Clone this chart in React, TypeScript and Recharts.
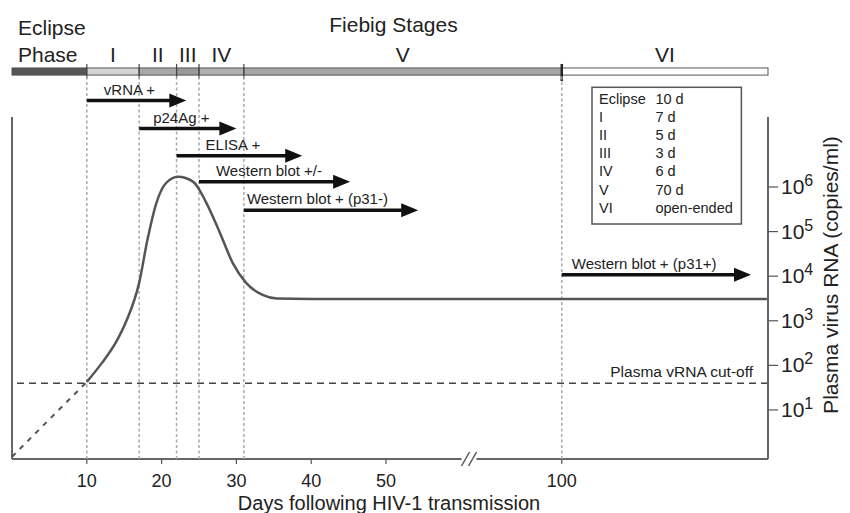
import React from 'react';
import { ComposedChart, Line, XAxis, YAxis, ReferenceLine, ReferenceArea, ReferenceDot } from 'recharts';

// Fiebig staging (days following transmission)
const stageNames = ['Eclipse', 'I', 'II', 'III', 'IV', 'V', 'VI'];
const stageLengths = ['10 d', '7 d', '5 d', '3 d', '6 d', '70 d', 'open-ended'];
const stageStarts = [0, 10, 17, 22, 25, 31, 100];
const stageEnds = [10, 17, 22, 25, 31, 100, 127.57];

// assays: first positive day and where the arrow stops
const assayNames = ['vRNA +', 'p24Ag +', 'ELISA +', 'Western blot +/-', 'Western blot + (p31-)', 'Western blot + (p31+)'];
const assayStarts = [10, 17, 22, 25, 31, 100];
const assayEnds = [23.3, 30, 38.8, 45.2, 54.3, 125.3];

// plasma viral load, log10 copies/ml
const curveDays = [10, 12, 14, 15.3, 17, 18.1, 19.3, 20.6, 22.2, 24.2, 26, 27.8, 29.5, 31.3, 33.5, 35.4, 40, 127.57];
const curveLog = [1.63, 2.05, 2.55, 3.0, 3.85, 4.81, 5.64, 6.09, 6.23, 6.12, 5.64, 4.97, 4.3, 3.85, 3.58, 3.5, 3.49, 3.49];
const earlyDays = [0, 10];
const earlyLog = [-0.05, 1.63];
const cutoffLog = 1.6;

const xTickDays = [10, 20, 30, 40, 50, 100];
const yTicks = [1, 2, 3, 4, 5, 6];

// axis break: days between BREAK_AT and BREAK_AT + BREAK_SKIP are not drawn
const BREAK_AT = 61.1;
const BREAK_SKIP = 26.5;
const toPos = (d: number) => (d <= BREAK_AT ? d : d - BREAK_SKIP);
const X_MAX = toPos(127.57);

// layout (data units)
const Y_MIN = -0.1;
const Y_MAX = 7.57;
const BAR_TOP = 8.67;
const BAR_BOTTOM = 8.51;
const TITLE_Y = 9.476;
const ARROW_ROWS = [7.94, 7.31, 6.7, 6.12, 5.48, 4.03];
const LABEL_DX = [17, 14, 29, 17, 3, 10];
const LEGEND_BOX = { x1: 77.54, x2: 97.51, y1: 5.17, y2: 8.236 };

const FONT = '"Liberation Sans", Arial, Helvetica, sans-serif';
const TEXT = '#222';
const AXIS = '#666';
const STAGE_FILLS = ['#555', '#d4d4d4', '#a9a9a9', '#9a9a9a', '#b0b0b0', '#a6a6a6', '#fff'];

const curveData = curveDays.map((d, i) => ({ pos: toPos(d), log: curveLog[i] }));
const earlyData = earlyDays.map((d, i) => ({ pos: toPos(d), log: earlyLog[i] }));

const stageShape = (i: number) => (p: any) => {
  const { x, y, width, height } = p;
  const last = i === stageNames.length - 1;
  return (
    <g>
      <rect x={x} y={y} width={width} height={height} fill={STAGE_FILLS[i]} stroke="#555" strokeWidth={1} />
      {i > 0 && (
        <line x1={x} x2={x} y1={y - 4} y2={y + height + (last ? 6 : 4)} stroke={last ? '#222' : '#444'} strokeWidth={last ? 2.5 : 1.2} />
      )}
      {i === 0 ? (
        <>
          <text x={x + 6} y={y - 33} fontSize={21} fill={TEXT}>Eclipse</text>
          <text x={x + 6} y={y - 6} fontSize={21} fill={TEXT}>Phase</text>
        </>
      ) : (
        <text x={x + width / 2} y={y - 6} fontSize={21} fill={TEXT} textAnchor="middle">{stageNames[i]}</text>
      )}
    </g>
  );
};

const arrowShape = (i: number) => (p: any) => {
  const x1 = Number(p.x1);
  const y1 = Number(p.y1);
  const x2 = Number(p.x2);
  return (
    <g>
      <line x1={x1} y1={y1} x2={x2 - 14} y2={y1} stroke="#111" strokeWidth={3.5} />
      <polygon points={`${x2},${y1} ${x2 - 17},${y1 - 7} ${x2 - 17},${y1 + 7}`} fill="#111" />
      <text x={x1 + LABEL_DX[i]} y={y1 - 6} fontSize={15} fill={TEXT}>{assayNames[i]}</text>
    </g>
  );
};

const legendShape = (p: any) => {
  const { x, y, width, height } = p;
  return (
    <g>
      <rect x={x} y={y} width={width} height={height} fill="#fff" stroke="#555" strokeWidth={1.5} />
      {stageNames.map((n, i) => (
        <g key={n}>
          <text x={x + 7} y={y + 16.2 + i * 18.23} fontSize={14.5} fill={TEXT}>{n}</text>
          <text x={x + 63.4} y={y + 16.2 + i * 18.23} fontSize={14.5} fill={TEXT}>{stageLengths[i]}</text>
        </g>
      ))}
    </g>
  );
};

const YTick = (p: any) => {
  const { x, y, payload } = p;
  return (
    <text x={x + 1} y={y + 7} fontSize={21} fill={TEXT}>
      10<tspan dy={-8} fontSize={16}>{payload.value}</tspan>
    </text>
  );
};

const App = () => (
  <div style={{ position: 'absolute', left: 0, top: 0, fontFamily: FONT, background: '#fff' }}>
    <ComposedChart width={850} height={513} margin={{ top: 117, right: 0, bottom: 0, left: 12 }}>
      <XAxis
        type="number"
        dataKey="pos"
        domain={[0, X_MAX]}
        ticks={xTickDays.map(toPos)}
        interval={0}
        tickFormatter={(v: number) => String(Math.round(v > BREAK_AT ? v + BREAK_SKIP : v))}
        axisLine={false}
        tickLine={{ stroke: '#555', strokeWidth: 1.2 }}
        tickSize={5}
        tickMargin={10}
        tick={{ fontSize: 18, fill: TEXT }}
        height={54}
        label={(p: any) => {
          const { x, y, width } = p.viewBox;
          return (
            <text x={x + width / 2 - 1} y={y + 51} fontSize={20} fill={TEXT} textAnchor="middle">
              Days following HIV-1 transmission
            </text>
          );
        }}
      />
      <YAxis
        orientation="right"
        type="number"
        domain={[Y_MIN, Y_MAX]}
        ticks={yTicks}
        interval={0}
        allowDataOverflow
        width={82}
        axisLine={{ stroke: AXIS, strokeWidth: 2 }}
        tickLine={{ stroke: '#555', strokeWidth: 1.2 }}
        tickSize={10}
        tickMargin={2}
        tick={<YTick />}
        label={(p: any) => {
          const { x, y } = p.viewBox;
          const cx = x + 70;
          const cy = y + 158;
          return (
            <text x={cx} y={cy} fontSize={21} fill={TEXT} textAnchor="middle" transform={`rotate(-90 ${cx} ${cy})`}>
              Plasma virus RNA (copies/ml)
            </text>
          );
        }}
      />

      {/* frame: left edge and broken bottom axis */}
      <ReferenceLine x={0} stroke={AXIS} strokeWidth={2} ifOverflow="visible" />
      <ReferenceLine segment={[{ x: 0, y: Y_MIN }, { x: BREAK_AT - 1, y: Y_MIN }]} stroke={AXIS} strokeWidth={2} ifOverflow="visible" />
      <ReferenceLine segment={[{ x: BREAK_AT + 1, y: Y_MIN }, { x: X_MAX, y: Y_MIN }]} stroke={AXIS} strokeWidth={2} ifOverflow="visible" />
      <ReferenceDot
        x={BREAK_AT}
        y={Y_MIN}
        ifOverflow="visible"
        shape={(p: any) => (
          <g stroke="#555" strokeWidth={1.5}>
            <line x1={p.cx - 7.5} y1={p.cy + 7} x2={p.cx + 0.5} y2={p.cy - 7} />
            <line x1={p.cx - 0.5} y1={p.cy + 7} x2={p.cx + 7.5} y2={p.cy - 7} />
          </g>
        )}
      />

      {/* stage boundaries */}
      {stageStarts.slice(1).map((d) => (
        <ReferenceLine
          key={`b${d}`}
          segment={[{ x: toPos(d), y: Y_MIN }, { x: toPos(d), y: BAR_BOTTOM }]}
          stroke="#aaa"
          strokeWidth={1.5}
          strokeDasharray="3 2.5"
          ifOverflow="visible"
        />
      ))}

      <ReferenceLine
        y={cutoffLog}
        stroke="#444"
        strokeWidth={1.5}
        strokeDasharray="7 5"
        ifOverflow="visible"
        label={(p: any) => {
          const { x, y, width } = p.viewBox;
          return (
            <text x={x + width - 15} y={y - 6} fontSize={15.5} fill={TEXT} textAnchor="end">
              Plasma vRNA cut-off
            </text>
          );
        }}
      />

      {/* Fiebig stage bar */}
      {stageNames.map((n, i) => (
        <ReferenceArea
          key={n}
          x1={toPos(stageStarts[i])}
          x2={toPos(stageEnds[i])}
          y1={BAR_BOTTOM}
          y2={BAR_TOP}
          ifOverflow="visible"
          shape={stageShape(i)}
        />
      ))}
      <ReferenceDot
        x={51}
        y={TITLE_Y}
        ifOverflow="visible"
        shape={(p: any) => (
          <text x={p.cx} y={p.cy} fontSize={21} fill={TEXT} textAnchor="middle">Fiebig Stages</text>
        )}
      />

      <ReferenceArea {...LEGEND_BOX} ifOverflow="visible" shape={legendShape} />

      {/* assay arrows */}
      {assayNames.map((n, i) => (
        <ReferenceLine
          key={n}
          segment={[{ x: toPos(assayStarts[i]), y: ARROW_ROWS[i] }, { x: toPos(assayEnds[i]), y: ARROW_ROWS[i] }]}
          ifOverflow="visible"
          shape={arrowShape(i)}
        />
      ))}

      <Line data={earlyData} dataKey="log" type="linear" stroke="#555" strokeWidth={2} strokeDasharray="5 6" dot={false} isAnimationActive={false} />
      <Line data={curveData} dataKey="log" type="monotone" stroke="#555" strokeWidth={2.5} dot={false} isAnimationActive={false} />
    </ComposedChart>
  </div>
);

export default App;
